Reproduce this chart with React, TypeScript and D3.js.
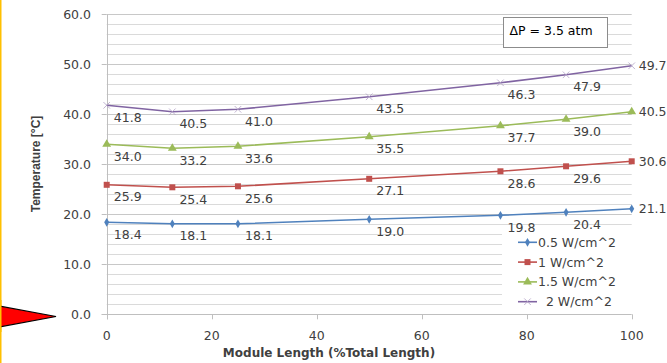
import React, { useRef, useEffect } from "react";
import * as d3 from "d3";

// module positions (% of total length)
const positions = [0, 12.5, 25, 50, 75, 87.5, 100];
const seriesNames = ["0.5 W/cm^2", "1 W/cm^2", "1.5 W/cm^2", "  2 W/cm^2"];
const temp05 = [18.4, 18.1, 18.1, 19.0, 19.8, 20.4, 21.1];
const temp1 = [25.9, 25.4, 25.6, 27.1, 28.6, 29.6, 30.6];
const temp15 = [34.0, 33.2, 33.6, 35.5, 37.7, 39.0, 40.5];
const temp2 = [41.8, 40.5, 41.0, 43.5, 46.3, 47.9, 49.7];
const yTicks = [0, 10, 20, 30, 40, 50, 60];
const xTicks = [0, 20, 40, 60, 80, 100];

const colors = ["#4f81bd", "#c0504d", "#9bbb59", "#8064a2"];
const markerColors = ["#4f81bd", "#c0504d", "#9bbb59", "#b3a2c7"];
const symbols = [d3.symbolDiamond, d3.symbolSquare, d3.symbolTriangle, d3.symbolX];
const symbolSizes = [22, 36, 34, 30];

function App() {
  const svgRef = useRef<SVGSVGElement>(null);

  useEffect(() => {
    d3.select(svgRef.current).selectAll("*").remove();
    const width = 667;
    const height = 363;
    const svg = d3.select(svgRef.current)
      .attr("width", width)
      .attr("height", height);

    const font = "DejaVu Sans, sans-serif";
    const textColor = "#404040";

    // scales
    const x = d3.scaleLinear().domain([0, 100]).range([106.7, 631.7]);
    const y = d3.scaleLinear().domain([0, 60]).range([314.3, 14.3]);

    // left yellow border
    svg.append("rect")
      .attr("x", 0).attr("y", 0)
      .attr("width", 1.5).attr("height", height)
      .attr("fill", "#ffc000");

    // minor + major gridlines
    svg.append("g")
      .selectAll("line")
      .data(d3.range(2, 61, 2))
      .join("line")
        .attr("x1", x(0)).attr("x2", x(100))
        .attr("y1", d => Math.round(y(d)) + 0.5)
        .attr("y2", d => Math.round(y(d)) + 0.5)
        .attr("stroke", d => d % 10 === 0 ? "#c8c8c8" : "#dadada")
        .attr("stroke-width", 1);

    // axes lines
    const axisColor = "#bfbfbf";
    svg.append("line")
      .attr("x1", Math.round(x(0)) + 0.5).attr("x2", Math.round(x(0)) + 0.5)
      .attr("y1", y(60)).attr("y2", y(0) + 5)
      .attr("stroke", axisColor);
    svg.append("line")
      .attr("x1", x(0) - 5).attr("x2", x(100))
      .attr("y1", Math.round(y(0)) + 0.5).attr("y2", Math.round(y(0)) + 0.5)
      .attr("stroke", axisColor);

    // y ticks
    svg.append("g")
      .selectAll("line")
      .data(yTicks)
      .join("line")
        .attr("x1", x(0) - 5).attr("x2", x(0))
        .attr("y1", d => Math.round(y(d)) + 0.5)
        .attr("y2", d => Math.round(y(d)) + 0.5)
        .attr("stroke", axisColor);
    svg.append("g")
      .selectAll("text")
      .data(yTicks)
      .join("text")
        .attr("x", 91)
        .attr("y", d => y(d) + 4.5)
        .attr("text-anchor", "end")
        .attr("font-family", font)
        .attr("font-size", 12.5)
        .attr("fill", textColor)
        .text(d => d.toFixed(1));

    // x ticks
    svg.append("g")
      .selectAll("line")
      .data(xTicks)
      .join("line")
        .attr("x1", d => Math.round(x(d)) + 0.5)
        .attr("x2", d => Math.round(x(d)) + 0.5)
        .attr("y1", y(0)).attr("y2", y(0) + 5)
        .attr("stroke", axisColor);
    svg.append("g")
      .selectAll("text")
      .data(xTicks)
      .join("text")
        .attr("x", d => x(d))
        .attr("y", 339.5)
        .attr("text-anchor", "middle")
        .attr("font-family", font)
        .attr("font-size", 12.5)
        .attr("fill", textColor)
        .text(d => d);

    // axis titles
    svg.append("text")
      .attr("transform", "translate(40,164) rotate(-90)")
      .attr("text-anchor", "middle")
      .attr("font-family", "Liberation Sans, sans-serif")
      .attr("font-weight", "bold")
      .attr("font-size", 12)
      .attr("fill", textColor)
      .text("Temperature [°C]");
    svg.append("text")
      .attr("x", 329)
      .attr("y", 357)
      .attr("text-anchor", "middle")
      .attr("font-family", font)
      .attr("font-weight", "bold")
      .attr("font-size", 12)
      .attr("fill", textColor)
      .text("Module Length (%Total Length)");

    // legend background
    svg.append("rect")
      .attr("x", 502).attr("y", 229)
      .attr("width", 140).attr("height", 83)
      .attr("fill", "#fff");

    // series
    const allSeries = [temp05, temp1, temp15, temp2];
    const line = d3.line<number>()
      .x((d, i) => x(positions[i]))
      .y(d => y(d));

    allSeries.forEach((vals, s) => {
      const g = svg.append("g");
      g.append("path")
        .datum(vals)
        .attr("d", line)
        .attr("fill", "none")
        .attr("stroke", colors[s])
        .attr("stroke-width", 1.6);
      const sym = d3.symbol().type(symbols[s]).size(symbolSizes[s]);
      g.selectAll("path.m")
        .data(vals)
        .join("path")
          .attr("class", "m")
          .attr("d", sym)
          .attr("transform", (d, i) => `translate(${x(positions[i])},${y(d)})`)
          .attr("fill", markerColors[s])
          .attr("stroke", s === 3 ? markerColors[s] : "none")
          .attr("stroke-width", 0.8);
      // data labels
      g.selectAll("text")
        .data(vals)
        .join("text")
          .attr("x", (d, i) => i === vals.length - 1 ? x(positions[i]) + 7 : x(positions[i]) + 21)
          .attr("y", (d, i) => i === vals.length - 1 ? y(d) + 4.5 : y(d) + 16.5)
          .attr("text-anchor", (d, i) => i === vals.length - 1 ? "start" : "middle")
          .attr("font-family", font)
          .attr("font-size", 12.5)
          .attr("fill", textColor)
          .text(d => d.toFixed(1));
    });

    // legend
    const legend = svg.append("g");
    seriesNames.forEach((name, s) => {
      const ly = 242.3 + s * 19.8;
      legend.append("line")
        .attr("x1", 518).attr("x2", 537)
        .attr("y1", ly).attr("y2", ly)
        .attr("stroke", colors[s])
        .attr("stroke-width", 1.6);
      legend.append("path")
        .attr("d", d3.symbol().type(symbols[s]).size(symbolSizes[s]))
        .attr("transform", `translate(527.5,${ly})`)
        .attr("fill", markerColors[s])
        .attr("stroke", s === 3 ? markerColors[s] : "none")
        .attr("stroke-width", 0.8);
      legend.append("text")
        .attr("x", 538)
        .attr("y", ly + 4.5)
        .attr("font-family", font)
        .attr("font-size", 12.5)
        .attr("fill", textColor)
        .attr("xml:space", "preserve")
        .style("white-space", "pre")
        .text(name);
    });

    // annotation box
    svg.append("rect")
      .attr("x", 503.5).attr("y", 17.5)
      .attr("width", 104).attr("height", 30)
      .attr("fill", "#fff")
      .attr("stroke", "#8c8c8c");
    svg.append("text")
      .attr("x", 509.5)
      .attr("y", 35.2)
      .attr("font-family", font)
      .attr("font-size", 12.5)
      .attr("fill", "#000")
      .text("ΔP = 3.5 atm");

    // red pointer arrow
    svg.append("path")
      .attr("d", "M-12,304 L56,316.5 L-12,329 Z")
      .attr("fill", "#ff0000")
      .attr("stroke", "#000")
      .attr("stroke-width", 1.2);
    svg.append("rect")
      .attr("x", 0).attr("y", 300)
      .attr("width", 1.5).attr("height", 32)
      .attr("fill", "#ffc000");
  }, []);

  return (
    <div>
      <svg ref={svgRef} style={{ position: "absolute", left: 0, top: 0 }}></svg>
    </div>
  );
}

export default App;
